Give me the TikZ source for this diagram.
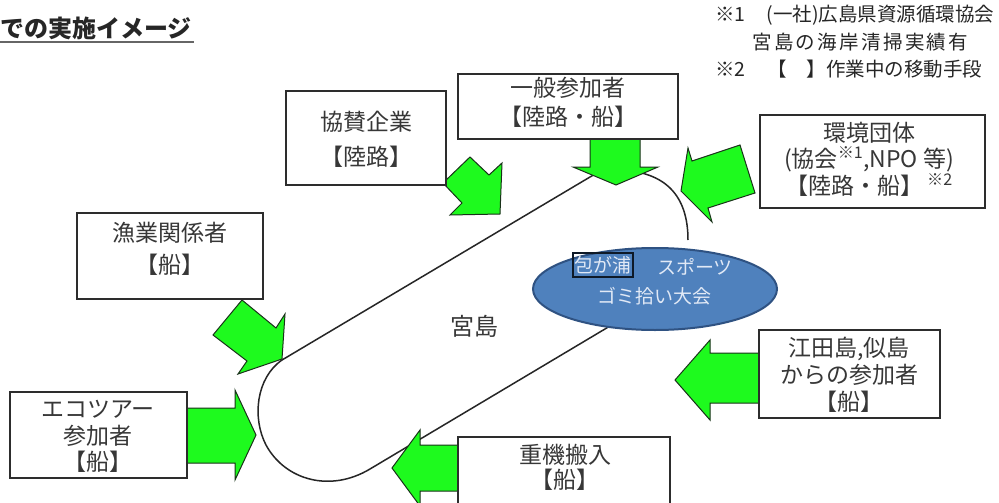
\documentclass[tikz,border=0pt]{standalone}
\usepackage{fontspec}
\setmainfont{Noto Sans CJK JP}
\usetikzlibrary{shapes.geometric}
\definecolor{agreen}{RGB}{30,250,30}
\definecolor{aedge}{RGB}{25,50,25}
\definecolor{tgray}{RGB}{55,55,55}
\definecolor{bedge}{RGB}{45,45,45}
\definecolor{efill}{RGB}{79,129,189}
\definecolor{eedge}{RGB}{47,82,130}
\definecolor{etext}{RGB}{225,233,246}
\tikzset{
  boxnode/.style={draw=bedge, line width=1.4pt, fill=white, rectangle, inner sep=0pt},
  boxtext/.style={text=tgray, align=center, inner sep=0pt},
  garrow/.style={fill=agreen, draw=aedge, line width=1pt, line join=miter},
  coast/.style={draw=black!85, line width=1.5pt},
  notetext/.style={text=black!85, anchor=west, inner sep=0pt, font=\fontsize{19.5}{23}\selectfont},
  elltext/.style={text=etext, inner sep=0pt, font=\fontsize{19}{23}\selectfont},
}
\begin{document}
\begin{tikzpicture}[x=1pt,y=-1pt]
\useasboundingbox (0,0) rectangle (999,503);
\clip (0,0) rectangle (999,503);
\fill[white] (0,0) rectangle (999,503);

% title
\node[anchor=west, inner sep=0pt, text=black!85, font=\fontsize{24}{28}\selectfont\bfseries] (title) at (0,28) {での実施イメージ};
\draw[line width=2pt, black!60] (0,42) -- (194,42);

% notes
\node[notetext] (n1) at (715,15) {※1\hspace{21pt}(一社)広島県資源循環協会};
\node[notetext, font=\fontsize{19.5}{23}\selectfont\addfontfeature{LetterSpace=12}] (n2) at (752,42) {宮島の海岸清掃実績有};
\node[notetext] (n3) at (715,69) {※2\hspace{22pt}【　】作業中の移動手段};

% island outline
\draw[coast] (688,240) .. controls (688,195) and (665,172) .. (620,170)
  .. controls (608,170) and (598,172) .. (590,177) -- (282,360)
  .. controls (256,378) and (252,418) .. (266,445)
  .. controls (285,480) and (330,493) .. (370,469) -- (610,326);

% event ellipse
\node[ellipse, fill=efill, draw=eedge, line width=2pt, minimum width=244, minimum height=82, inner sep=0pt] (ell) at (655,289) {};
\node[elltext, draw=black!70!eedge, line width=1.2pt, minimum width=60, minimum height=24] (hou) at (603,265) {包が浦};
\node[elltext] (spo) at (695,267) {スポーツ};
\node[elltext] (gomi) at (654,296) {ゴミ拾い大会};

\node[text=tgray, inner sep=0pt, font=\fontsize{24}{28}\selectfont] (miya) at (474,326) {宮島};

% green block arrows
\draw[garrow] (590,136) -- (640,136) -- (640,167) -- (658,167) -- (616,185) -- (573,167) -- (590,167) -- cycle;
\draw[garrow] (470,157) -- (489,175) -- (502,163) -- (500,214) -- (450,215) -- (462,203) -- (443,183) -- cycle;
\draw[garrow] (242,300) -- (276,328) -- (285,314) -- (282,359) -- (238,374) -- (247,361) -- (213,335) -- cycle;
\draw[garrow] (185,408) -- (235,408) -- (235,390) -- (256,435) -- (235,480) -- (235,463) -- (185,463) -- cycle;
\draw[garrow] (460,445) -- (420,445) -- (420,430) -- (392,468) -- (420,506) -- (420,491) -- (460,491) -- cycle;
\draw[garrow] (761,353) -- (710,353) -- (710,340) -- (675,380) -- (710,420) -- (710,403) -- (761,403) -- cycle;
\draw[garrow] (681,191) -- (688,148) -- (692,161) -- (740,145) -- (755,193) -- (708,208) -- (712,222) -- cycle;

% boxes
\node[boxnode, minimum width=160, minimum height=94] (b1) at (366,138) {};
\node[boxtext, font=\fontsize{23}{35}\selectfont] (t1) at (366,139.5) {協賛企業\\【陸路】};

\node[boxnode, minimum width=220, minimum height=65] (b2) at (568,106.5) {};
\node[boxtext, font=\fontsize{23}{29}\selectfont] (t2) at (568,102.5) {一般参加者\\【陸路・船】};

\node[boxnode, minimum width=225, minimum height=93] (b3) at (872.5,161.5) {};
\node[boxtext, font=\fontsize{23}{26.5}\selectfont] (t3) at (869,159) {環境団体\\(協会\textsuperscript{※1},NPO 等)\\【陸路・船】\,\textsuperscript{※2}};

\node[boxnode, minimum width=186, minimum height=86] (b4) at (170,256) {};
\node[boxtext, font=\fontsize{23}{32}\selectfont] (t4) at (170,249) {漁業関係者\\【船】};

\node[boxnode, minimum width=177, minimum height=86] (b5) at (98.5,435) {};
\node[boxtext, font=\fontsize{23}{26.5}\selectfont] (t5) at (98,436.5) {エコツアー\\参加者\\【船】};

\node[boxnode, minimum width=212, minimum height=83] (b6) at (564,478.5) {};
\node[boxtext, font=\fontsize{23}{25}\selectfont] (t6) at (565,467.5) {重機搬入\\【船】};

\node[boxnode, minimum width=181, minimum height=88] (b7) at (849.5,374) {};
\node[boxtext, font=\fontsize{23}{27}\selectfont] (t7) at (849,375) {江田島,似島\\からの参加者\\【船】};
\end{tikzpicture}
\end{document}
